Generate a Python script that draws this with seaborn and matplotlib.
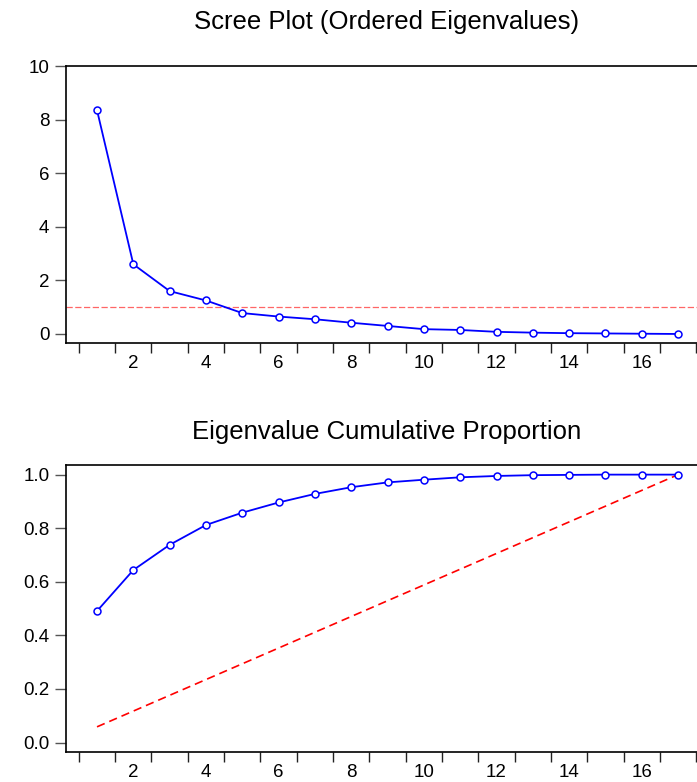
import pandas as pd
import seaborn as sns
import matplotlib.pyplot as plt
from matplotlib.ticker import FixedLocator

# values
components = list(range(1, 18))
eigenvalues = [8.35, 2.60, 1.60, 1.25, 0.78, 0.65, 0.55, 0.42, 0.30,
               0.18, 0.15, 0.08, 0.05, 0.03, 0.02, 0.01, 0.00]
cum_prop = [0.491, 0.644, 0.738, 0.812, 0.858, 0.896, 0.928, 0.953, 0.971,
            0.981, 0.990, 0.995, 0.998, 0.999, 1.000, 1.000, 1.000]
ref_x = [1, 17]
ref_y = [0.0588, 1.0]
kaiser = 1.0

sns.set_style("ticks")
plt.rcParams['font.family'] = ['Liberation Sans', 'DejaVu Sans']
plt.rcParams['text.color'] = 'black'

df = pd.DataFrame({"component": components, "eigenvalue": eigenvalues,
                   "cumulative": cum_prop})

fig = plt.figure(figsize=(6.97, 7.82), dpi=100)
ax1 = fig.add_axes([0.0947, 0.5614, 0.9053, 0.3542])
ax2 = fig.add_axes([0.0947, 0.0384, 0.9053, 0.3670])

line_kw = dict(color="#0000ff", linewidth=1.3, marker="o", markersize=5,
               markerfacecolor="white", markeredgecolor="#0000ff",
               markeredgewidth=1.1)

ax1.axhline(kaiser, color="#ff6666", linewidth=0.9, linestyle=(0, (5, 2)))
sns.lineplot(data=df, x="component", y="eigenvalue", ax=ax1, **line_kw)
ax1.set_ylim(-0.336, 10)
ax1.set_yticks([0, 2, 4, 6, 8, 10])

sns.lineplot(x=ref_x, y=ref_y, ax=ax2, color="#ff0000", linewidth=1.2,
             linestyle=(0, (5, 3)))
sns.lineplot(data=df, x="component", y="cumulative", ax=ax2, **line_kw)
ax2.set_ylim(-0.035, 1.036)
ax2.set_yticks([0.0, 0.2, 0.4, 0.6, 0.8, 1.0])
ax2.yaxis.set_major_formatter(plt.FormatStrFormatter("%.1f"))

for ax in (ax1, ax2):
    ax.set_xlim(0.146, 17.52)
    ax.set_xlabel("")
    ax.set_ylabel("")
    ax.spines["right"].set_visible(False)
    for s in ("left", "bottom", "top"):
        ax.spines[s].set_linewidth(1.2)
        ax.spines[s].set_color("black")
    ax.xaxis.set_major_locator(FixedLocator(list(range(2, 17, 2))))
    ax.xaxis.set_minor_locator(FixedLocator([i + 0.5 for i in range(18)]))
    ax.tick_params(axis="x", which="major", length=0, pad=9, labelsize=13.5,
                   labelcolor="black")
    ax.tick_params(axis="x", which="minor", length=7, width=1.0, color="#222222")
    ax.tick_params(axis="y", length=8, width=1.0, color="#555555", labelsize=13.5,
                   pad=4, labelcolor="black")

fig.text(0.555, 0.972, "Scree Plot (Ordered Eigenvalues)", ha="center",
         va="center", fontsize=18.5)
fig.text(0.555, 0.448, "Eigenvalue Cumulative Proportion", ha="center",
         va="center", fontsize=18.5)

fig.savefig("out.png", dpi=100)
